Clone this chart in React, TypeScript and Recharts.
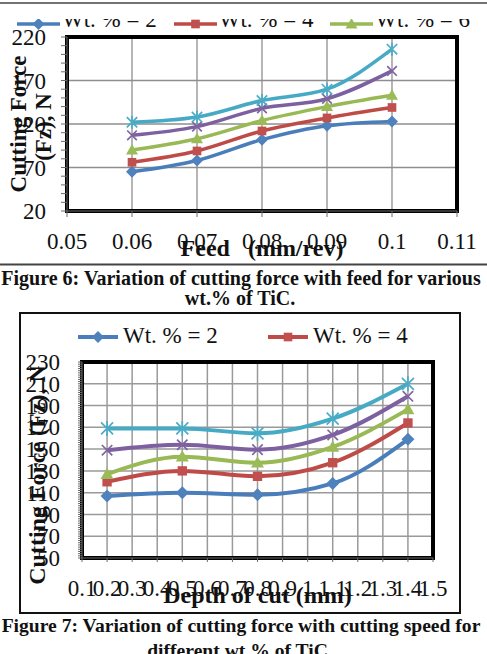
import React from 'react';
import {
  LineChart,
  Line,
  XAxis,
  YAxis,
  CartesianGrid,
  Legend,
  ReferenceArea,
  Label,
} from 'recharts';

const SERIF = '"Liberation Serif", "Times New Roman", Times, serif';

const seriesNames = ['Wt. % = 2', 'Wt. % = 4', 'Wt. % = 6', 'Wt. % = 8', 'Wt. % = 10'];

// Figure 6: feed (mm/rev) against cutting force Fz (N)
const feedValues = [0.06, 0.07, 0.08, 0.09, 0.1];
const feedForceWt2 = [65, 78, 102, 118, 123];
const feedForceWt4 = [76, 89, 112, 127, 139];
const feedForceWt6 = [90, 103, 124, 140, 153];
const feedForceWt8 = [107, 117, 138, 149, 181];
const feedForceWt10 = [122, 128, 147, 160, 206];
const feedAxisTicks = [0.05, 0.06, 0.07, 0.08, 0.09, 0.1, 0.11];
const feedForceTicks = [20, 70, 120, 170, 220];

// Figure 7: depth of cut (mm) against cutting force Fz (N)
const depthValues = [0.2, 0.5, 0.8, 1.1, 1.4];
const depthForceWt2 = [107, 110, 108, 118.5, 159];
const depthForceWt4 = [120, 130, 125, 137.5, 174];
const depthForceWt6 = [127, 143, 137.5, 152, 186.5];
const depthForceWt8 = [149, 154, 149.5, 163, 198.5];
const depthForceWt10 = [169, 169, 164.5, 178, 210];
const depthAxisTicks = [0.1, 0.2, 0.3, 0.4, 0.5, 0.6, 0.7, 0.8, 0.9, 1, 1.1, 1.2, 1.3, 1.4, 1.5];
const depthForceTicks = [50, 70, 90, 110, 130, 150, 170, 190, 210, 230];

type MarkerKind = 'diamond' | 'square' | 'triangle' | 'cross' | 'star';

const seriesLook: { key: string; line: string; fill: string; marker: MarkerKind }[] = [
  { key: 'wt2', line: '#4a7ebb', fill: '#4f81bd', marker: 'diamond' },
  { key: 'wt4', line: '#be4b48', fill: '#c0504d', marker: 'square' },
  { key: 'wt6', line: '#98b954', fill: '#9bbb59', marker: 'triangle' },
  { key: 'wt8', line: '#7d60a0', fill: '#8064a2', marker: 'cross' },
  { key: 'wt10', line: '#46aac5', fill: '#4bacc6', marker: 'star' },
];

function buildRows(xKey: string, xs: number[], columns: number[][]) {
  return xs.map((x, i) => {
    const row: Record<string, number> = { [xKey]: x };
    columns.forEach((col, s) => {
      row[seriesLook[s].key] = col[i];
    });
    return row;
  });
}

const feedRows = buildRows('feed', feedValues, [
  feedForceWt2,
  feedForceWt4,
  feedForceWt6,
  feedForceWt8,
  feedForceWt10,
]);
const depthRows = buildRows('depth', depthValues, [
  depthForceWt2,
  depthForceWt4,
  depthForceWt6,
  depthForceWt8,
  depthForceWt10,
]);

// split each major interval into equal parts for the small tick marks
function withMinor(major: number[], parts: number) {
  const out: number[] = [];
  for (let i = 0; i < major.length - 1; i++) {
    const step = (major[i + 1] - major[i]) / parts;
    for (let k = 0; k < parts; k++) out.push(major[i] + step * k);
  }
  out.push(major[major.length - 1]);
  return out;
}

function MarkerShape({
  kind,
  cx,
  cy,
  size,
  color,
}: {
  kind: MarkerKind;
  cx: number;
  cy: number;
  size: number;
  color: string;
}) {
  if (cx == null || cy == null) return null;
  const h = size / 2;
  if (kind === 'diamond') {
    return (
      <polygon
        points={`${cx},${cy - h} ${cx + h},${cy} ${cx},${cy + h} ${cx - h},${cy}`}
        fill={color}
      />
    );
  }
  if (kind === 'square') {
    const s = h * 0.72;
    return <rect x={cx - s} y={cy - s} width={2 * s} height={2 * s} fill={color} />;
  }
  if (kind === 'triangle') {
    return (
      <polygon
        points={`${cx},${cy - h} ${cx + h},${cy + h * 0.75} ${cx - h},${cy + h * 0.75}`}
        fill={color}
      />
    );
  }
  const d = h * 0.8;
  const cross = `M${cx - d},${cy - d}L${cx + d},${cy + d}M${cx + d},${cy - d}L${cx - d},${cy + d}`;
  if (kind === 'cross') {
    return <path d={cross} stroke={color} strokeWidth={1.7} fill="none" />;
  }
  return (
    <path
      d={`${cross}M${cx},${cy - h}L${cx},${cy + h}`}
      stroke={color}
      strokeWidth={1.7}
      fill="none"
    />
  );
}

type LegendSpec = {
  count: number;
  itemWidth: number;
  iconWidth: number;
  gap: number;
  lineY: number;
  markerSize: number;
  strokeWidth: number;
};

function LegendRow({ count, itemWidth, iconWidth, gap, lineY, markerSize, strokeWidth }: LegendSpec) {
  const fontSize = 23;
  return (
    <div
      style={{
        display: 'flex',
        fontFamily: SERIF,
        fontSize,
        lineHeight: `${fontSize}px`,
        color: '#111',
        whiteSpace: 'nowrap',
      }}
    >
      {seriesLook.slice(0, count).map((s, i) => (
        <div key={s.key} style={{ width: itemWidth, position: 'relative', height: fontSize }}>
          <svg
            width={iconWidth}
            height={fontSize}
            style={{ position: 'absolute', left: 0, top: 0, overflow: 'visible' }}
          >
            <line x1={0} y1={lineY} x2={iconWidth} y2={lineY} stroke={s.line} strokeWidth={strokeWidth} />
            <MarkerShape kind={s.marker} cx={iconWidth / 2} cy={lineY} size={markerSize} color={s.fill} />
          </svg>
          <span style={{ position: 'absolute', left: iconWidth + gap, top: 0 }}>{seriesNames[i]}</span>
        </div>
      ))}
    </div>
  );
}

const tickStyle = { fontSize: 23, fill: '#111', fontFamily: SERIF };

function FeedForceTitle(props: any) {
  const vb = props.viewBox || { x: 0, y: 0, width: 0, height: 0 };
  const cy = vb.y + vb.height / 2;
  return (
    <g fontFamily={SERIF} fontWeight="bold" fontSize={23} fill="#111">
      <text transform={`translate(${vb.x + 26}, ${cy}) rotate(-90)`} textAnchor="middle">
        Cutting Force
      </text>
      <text transform={`translate(${vb.x + 51}, ${cy + 3}) rotate(-90)`} textAnchor="middle">
        (Fz), N
      </text>
    </g>
  );
}

function FeedTitle(props: any) {
  const vb = props.viewBox || { x: 0, y: 0, width: 0, height: 0 };
  return (
    <text
      x={vb.x + vb.width / 2}
      y={vb.y + 45}
      textAnchor="middle"
      fontFamily={SERIF}
      fontWeight="bold"
      fontSize={24}
      fill="#111"
      style={{ whiteSpace: 'pre' }}
    >
      {'Feed   (mm/rev)'}
    </text>
  );
}

function DepthForceTitle(props: any) {
  const vb = props.viewBox || { x: 0, y: 0, width: 0, height: 0 };
  const cy = vb.y + vb.height / 2 + 15;
  return (
    <text
      transform={`translate(${vb.x + 45}, ${cy}) rotate(-90)`}
      textAnchor="middle"
      fontFamily={SERIF}
      fontWeight="bold"
      fontSize={24}
      fill="#111"
    >
      Cutting Force (Fz), N
    </text>
  );
}

function DepthTitle(props: any) {
  const vb = props.viewBox || { x: 0, y: 0, width: 0, height: 0 };
  return (
    <text
      x={vb.x + vb.width / 2}
      y={vb.y + 45}
      textAnchor="middle"
      fontFamily={SERIF}
      fontWeight="bold"
      fontSize={24}
      fill="#111"
    >
      Depth of cut (mm)
    </text>
  );
}

function FeedChart() {
  const minorY = withMinor(feedForceTicks, 5);
  return (
    <LineChart
      width={487}
      height={265}
      data={feedRows}
      margin={{ top: 37, right: 30, bottom: 0, left: 0 }}
      style={{ fontFamily: SERIF }}
    >
      <CartesianGrid
        stroke="#8e8e8e"
        strokeWidth={1.3}
        horizontalValues={feedForceTicks}
        verticalValues={feedAxisTicks}
      />
      <XAxis
        type="number"
        dataKey="feed"
        domain={[0.05, 0.11]}
        ticks={feedAxisTicks}
        interval={0}
        height={54}
        tickSize={6}
        tickMargin={16}
        tick={tickStyle}
        tickFormatter={(v: number) => String(v)}
        stroke="#6a6a6a"
      >
        <Label content={<FeedTitle />} />
      </XAxis>
      <YAxis
        type="number"
        domain={[20, 220]}
        ticks={minorY}
        interval={0}
        width={67}
        tickSize={6}
        tickMargin={15}
        tick={tickStyle}
        tickFormatter={(v: number) => (feedForceTicks.includes(v) ? String(v) : '')}
        stroke="#6a6a6a"
      >
        <Label content={<FeedForceTitle />} />
      </YAxis>
      <ReferenceArea
        x1={0.05}
        x2={0.11}
        y1={20}
        y2={220}
        fill="none"
        stroke="#000"
        strokeWidth={4}
        fillOpacity={0}
        strokeOpacity={1}
        ifOverflow="visible"
      />
      <Legend
        verticalAlign="middle"
        align="center"
        layout="horizontal"
        wrapperStyle={{ left: 17, top: 8, width: 470 }}
        content={() => (
          <LegendRow count={3} itemWidth={157} iconWidth={43} gap={2} lineY={16} markerSize={12} strokeWidth={3.5} />
        )}
      />
      {seriesLook.map((s, i) => (
        <Line
          key={s.key}
          type="monotone"
          dataKey={s.key}
          name={seriesNames[i]}
          stroke={s.line}
          strokeWidth={3.5}
          isAnimationActive={false}
          dot={(p: any) => (
            <MarkerShape
              key={`${s.key}-${p.index}`}
              kind={s.marker}
              cx={p.cx}
              cy={p.cy}
              size={s.marker === 'star' ? 13 : 12}
              color={s.fill}
            />
          )}
          activeDot={false}
        />
      ))}
    </LineChart>
  );
}

function DepthChart() {
  const minorY = withMinor(depthForceTicks, 10);
  return (
    <LineChart
      width={487}
      height={300}
      data={depthRows}
      margin={{ top: 49, right: 54, bottom: 0, left: 0 }}
      style={{ fontFamily: SERIF }}
    >
      <CartesianGrid
        stroke="#9a9a9a"
        strokeWidth={1.5}
        horizontalValues={depthForceTicks}
        verticalValues={depthAxisTicks}
      />
      <XAxis
        type="number"
        dataKey="depth"
        domain={[0.1, 1.5]}
        ticks={depthAxisTicks}
        interval={0}
        height={55}
        tickSize={4}
        tickMargin={18}
        tick={tickStyle}
        tickFormatter={(v: number) => String(v)}
        stroke="#6a6a6a"
      >
        <Label content={<DepthTitle />} />
      </XAxis>
      <YAxis
        type="number"
        domain={[50, 230]}
        ticks={minorY}
        interval={0}
        width={82}
        tickSize={4}
        tickMargin={18}
        tick={tickStyle}
        tickFormatter={(v: number) => (depthForceTicks.includes(v) ? String(v) : '')}
        stroke="#6a6a6a"
      >
        <Label content={<DepthForceTitle />} />
      </YAxis>
      <ReferenceArea
        x1={0.1}
        x2={1.5}
        y1={50}
        y2={230}
        fill="none"
        stroke="#000"
        strokeWidth={4}
        fillOpacity={0}
        strokeOpacity={1}
        ifOverflow="visible"
      />
      <Legend
        verticalAlign="middle"
        align="center"
        layout="horizontal"
        wrapperStyle={{ left: 78, top: 11, width: 400 }}
        content={() => (
          <LegendRow count={2} itemWidth={190} iconWidth={40} gap={5} lineY={13} markerSize={12} strokeWidth={4} />
        )}
      />
      {seriesLook.map((s, i) => (
        <Line
          key={s.key}
          type="monotone"
          dataKey={s.key}
          name={seriesNames[i]}
          stroke={s.line}
          strokeWidth={4}
          isAnimationActive={false}
          dot={(p: any) => (
            <MarkerShape
              key={`${s.key}-${p.index}`}
              kind={s.marker}
              cx={p.cx}
              cy={p.cy}
              size={s.marker === 'star' ? 15 : 13}
              color={s.fill}
            />
          )}
          activeDot={false}
        />
      ))}
    </LineChart>
  );
}

export default function App() {
  return (
    <div
      style={{
        position: 'absolute',
        left: 0,
        top: 0,
        width: 487,
        height: 654,
        overflow: 'hidden',
        background: '#fff',
        fontFamily: SERIF,
      }}
    >
      <svg width={487} height={654} style={{ position: 'absolute', left: 0, top: 0 }}>
        <line x1={0} y1={3} x2={487} y2={3} stroke="#444" strokeWidth={1.6} />
        <line x1={0} y1={264.5} x2={487} y2={264.5} stroke="#444" strokeWidth={2} />
        <g fontFamily={SERIF} fontWeight="bold" fill="#111" textAnchor="middle">
          <text x={241} y={285} fontSize={20}>
            Figure 6: Variation of cutting force with feed for various
          </text>
          <text x={240} y={305} fontSize={20}>
            wt.% of TiC.
          </text>
          <text x={241} y={632} fontSize={19.6}>
            Figure 7: Variation of cutting force with cutting speed for
          </text>
          <text x={240} y={657} fontSize={19.6}>
            different wt.% of TiC.
          </text>
        </g>
        <rect x={20} y={313} width={440} height={300} fill="none" stroke="#111" strokeWidth={2} />
      </svg>
      <div style={{ position: 'absolute', left: 0, top: 19, width: 487, height: 245, overflow: 'hidden' }}>
        <div style={{ position: 'absolute', left: 0, top: -19 }}>
          <FeedChart />
        </div>
      </div>
      <div style={{ position: 'absolute', left: 0, top: 313 }}>
        <DepthChart />
      </div>
    </div>
  );
}
